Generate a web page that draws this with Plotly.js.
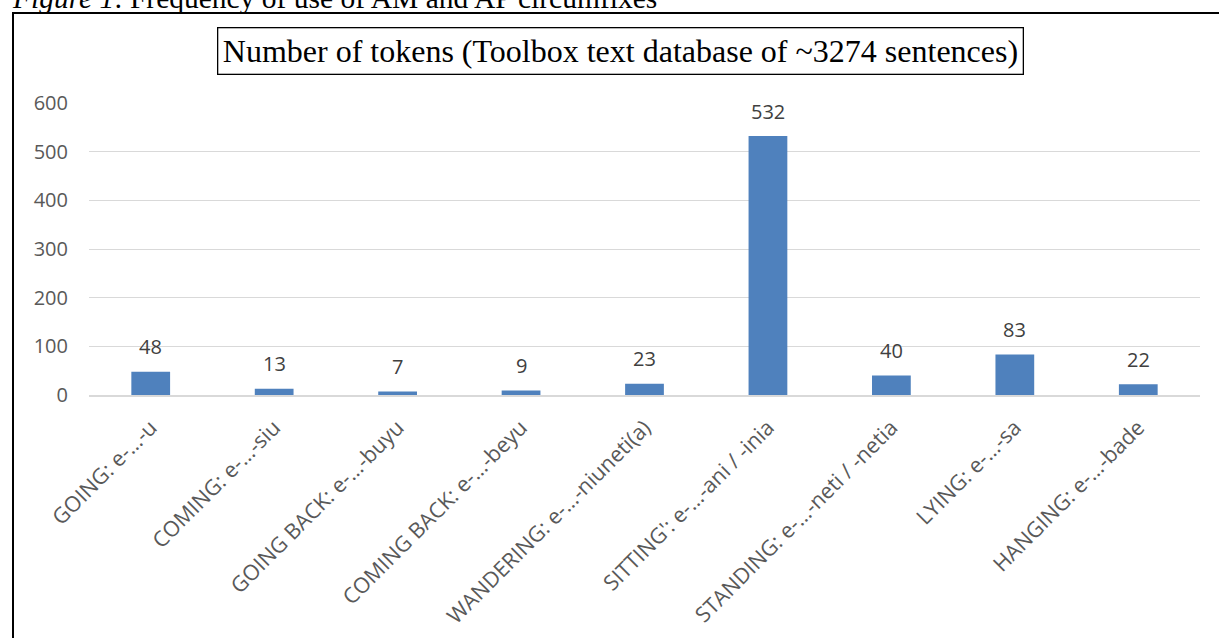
<!DOCTYPE html>
<html>
<head>
<meta charset="utf-8">
<script src="https://cdn.plot.ly/plotly-3.0.1.min.js"></script>
<style>
  html, body { margin: 0; padding: 0; background: #ffffff; overflow: hidden; }
  #wrap { position: relative; width: 1219px; height: 638px; overflow: hidden; background: #fff; }
  #caption { position: absolute; left: 13px; top: -17px; font-family: "Liberation Serif", "Times New Roman", serif; font-size: 29.5px; line-height: 30px; color: #000; white-space: nowrap; }
  #frame { position: absolute; left: 12px; top: 12px; width: 1300px; height: 700px; border-left: 2px solid #000; border-top: 2px solid #000; box-sizing: border-box; pointer-events: none; }
  #chart { position: absolute; left: 0; top: 0; width: 1219px; height: 638px; }
</style>
</head>
<body>
<div id="wrap">
  <div id="chart"></div>
  <div id="frame"></div>
  <div id="caption"><i>Figure 1</i>: Frequency of use of AM and AP circumfixes</div>
</div>
<script>
const categories = [
  "GOING: e-…-u",
  "COMING: e-…-siu",
  "GOING BACK: e-…-buyu",
  "COMING BACK: e-…-beyu",
  "WANDERING: e-…-niuneti(a)",
  "SITTING': e-…-ani / -inia",
  "STANDING: e-…-neti / -netia",
  "LYING: e-…-sa",
  "HANGING: e-…-bade"
];
const tokens = [48, 13, 7, 9, 23, 532, 40, 83, 22];
const yTickValues = [0, 100, 200, 300, 400, 500, 600];
const chartTitle = "Number of tokens (Toolbox text database of ~3274 sentences)";

const labelFont = { family: "Open Sans, sans-serif", size: 20, color: "#404040" };

const valueLabels = categories.map((c, i) => ({
  x: c, y: tokens[i], xref: "x", yref: "y",
  text: String(tokens[i]), showarrow: false,
  yanchor: "middle", yshift: 25, font: labelFont
}));

const titleAnn = {
  xref: "paper", yref: "paper", x: 0.4788, y: 1.178,
  xanchor: "center", yanchor: "middle",
  text: chartTitle, showarrow: false,
  font: { family: "Liberation Serif, Times New Roman, serif", size: 32, color: "#000" },
  bordercolor: "#000", borderwidth: 1.3, borderpad: 4.5, bgcolor: "#fff"
};

const trace = {
  type: "bar",
  x: categories,
  y: tokens,
  marker: { color: "#4F81BD", line: { width: 0 } },
  hoverinfo: "x+y"
};

const layout = {
  width: 1219, height: 638,
  margin: { l: 89, r: 19, t: 103, b: 243 },
  paper_bgcolor: "#ffffff",
  plot_bgcolor: "#ffffff",
  showlegend: false,
  bargap: 0.686,
  xaxis: {
    type: "category",
    tickangle: -45,
    tickfont: { family: "Open Sans, sans-serif", size: 21.5, color: "#595959" },
    showline: true, linecolor: "#d9d9d9", linewidth: 1.5,
    showgrid: false, ticks: "", automargin: false,
    ticklabelstandoff: 10
  },
  yaxis: {
    range: [0, 600],
    tickvals: yTickValues,
    tickfont: { family: "Open Sans, sans-serif", size: 20, color: "#595959" },
    gridcolor: "#d9d9d9", gridwidth: 1,
    zeroline: false, showline: false, ticks: "",
    ticklabelstandoff: 20, automargin: false
  },
  annotations: [titleAnn].concat(valueLabels)
};

Plotly.newPlot("chart", [trace], layout, { displayModeBar: false, staticPlot: true });
</script>
</body>
</html>
